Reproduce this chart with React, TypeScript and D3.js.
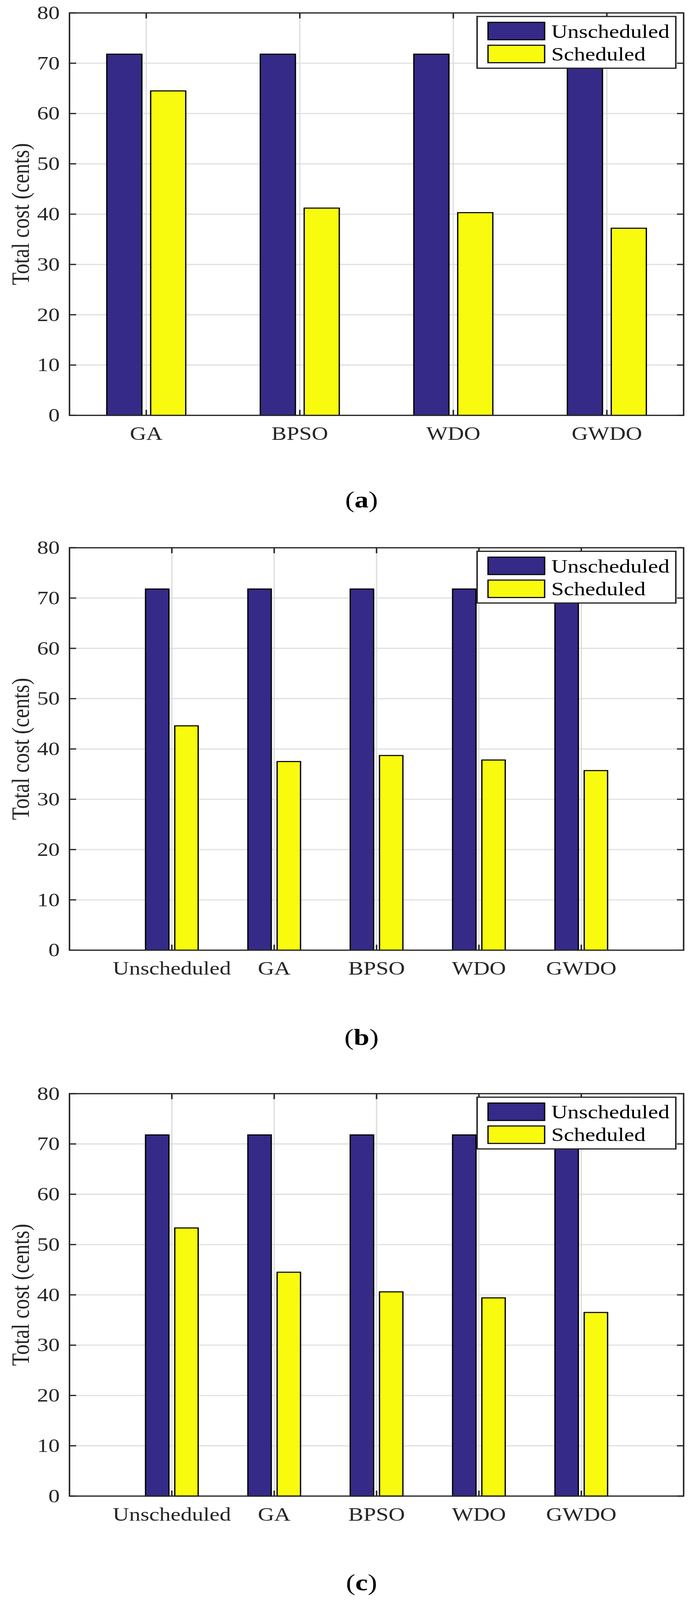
import React, { useEffect } from 'react';
import * as d3 from 'd3';

// panel (a): four methods
const catsA = ['GA', 'BPSO', 'WDO', 'GWDO'];
const unschedA = [71.8, 71.8, 71.8, 71.8];
const schedA = [64.5, 41.2, 40.3, 37.2];

// panel (b)
const catsB = ['Unscheduled', 'GA', 'BPSO', 'WDO', 'GWDO'];
const unschedB = [71.8, 71.8, 71.8, 71.8, 71.8];
const schedB = [44.6, 37.5, 38.7, 37.8, 35.7];

// panel (c)
const catsC = ['Unscheduled', 'GA', 'BPSO', 'WDO', 'GWDO'];
const unschedC = [71.8, 71.8, 71.8, 71.8, 71.8];
const schedC = [53.3, 44.5, 40.6, 39.4, 36.5];

const yTicks = [0, 10, 20, 30, 40, 50, 60, 70, 80];
const seriesNames = ['Unscheduled', 'Scheduled'];
const captions = ['a', 'b', 'c'];

const W = 1775;
const H = 4950;
const LEFT = 178;
const RIGHT = 1751;
const PH = 1245;
const TOPS = [40, 1694.6, 3383.5];
const CAP_Y = [1570, 3233, 4920];

const BLUE = '#352a87';
const YELLOW = '#f9fb0e';
const AXIS = '#262626';
const GRID = '#dfdfdf';
const FONT = '"Liberation Serif", "Times New Roman", serif';
const FS = 58;
const TICK = 17;

const Panel = ({ top, cats, unsched, sched, pad }: any) => {
  const n = cats.length;
  const x = d3.scaleLinear().domain([1 - pad, n + pad]).range([LEFT, RIGHT]);
  const y = d3.scaleLinear().domain([0, 80]).range([PH, 0]);
  const step = x(2) - x(1);
  const offs = 0.1429; // matlab grouped bar offset for 2 series
  const bw = 0.2286 * step;
  const idx = d3.range(1, n + 1);
  const series = [
    { vals: unsched, color: BLUE, off: -offs },
    { vals: sched, color: YELLOW, off: offs },
  ];
  const lx = 1222;
  const ly = 11;
  return (
    <g transform={`translate(0,${top})`}>
      {/* grid */}
      {yTicks.map(t => (
        <line key={'gy' + t} x1={LEFT} x2={RIGHT} y1={y(t)} y2={y(t)} stroke={GRID} strokeWidth={3.5} />
      ))}
      {idx.map(i => (
        <line key={'gx' + i} x1={x(i)} x2={x(i)} y1={0} y2={PH} stroke={GRID} strokeWidth={3.5} />
      ))}
      {/* bars */}
      {series.map((s, si) =>
        idx.map(i => (
          <rect
            key={`b${si}-${i}`}
            x={x(i + s.off) - bw / 2}
            y={y(s.vals[i - 1])}
            width={bw}
            height={y(0) - y(s.vals[i - 1])}
            fill={s.color}
            stroke="#000"
            strokeWidth={3.3}
          />
        ))
      )}
      {/* box + ticks */}
      <rect x={LEFT} y={0} width={RIGHT - LEFT} height={PH} fill="none" stroke={AXIS} strokeWidth={3.8} />
      {yTicks.map(t => (
        <g key={'ty' + t}>
          <line x1={LEFT} x2={LEFT + TICK} y1={y(t)} y2={y(t)} stroke={AXIS} strokeWidth={3.8} />
          <line x1={RIGHT - TICK} x2={RIGHT} y1={y(t)} y2={y(t)} stroke={AXIS} strokeWidth={3.8} />
          <text x={153} y={y(t) + FS * 0.33} textAnchor="end" fontSize={FS} fontFamily={FONT} fill={AXIS}>
            {t}
          </text>
        </g>
      ))}
      {idx.map(i => (
        <g key={'tx' + i}>
          <line x1={x(i)} x2={x(i)} y1={PH} y2={PH - TICK} stroke={AXIS} strokeWidth={3.8} />
          <line x1={x(i)} x2={x(i)} y1={0} y2={TICK} stroke={AXIS} strokeWidth={3.8} />
          <text x={x(i)} y={PH + 76} textAnchor="middle" fontSize={FS} fontFamily={FONT} fill={AXIS}>
            {cats[i - 1]}
          </text>
        </g>
      ))}
      <text
        transform={`translate(74,${PH / 2}) rotate(-90)`}
        textAnchor="middle"
        fontSize={64}
        fontFamily={FONT}
        fill={AXIS}
      >
        Total cost (cents)
      </text>
      {/* legend */}
      <rect x={lx} y={ly} width={1731 - lx} height={160} fill="#fff" stroke={AXIS} strokeWidth={3.8} />
      {seriesNames.map((name, k) => (
        <g key={name}>
          <rect
            x={1250}
            y={ly + 18 + k * 71}
            width={145}
            height={54}
            fill={k === 0 ? BLUE : YELLOW}
            stroke="#000"
            strokeWidth={3.3}
          />
          <text x={1412} y={ly + 66 + k * 70} fontSize={FS} fontFamily={FONT} fill="#000">
            {name}
          </text>
        </g>
      ))}
    </g>
  );
};

export default function App() {
  useEffect(() => {
    document.body.style.margin = '0';
  }, []);

  // the browser window is shorter than the figure; fit the figure into it
  const vh = typeof window !== 'undefined' && window.innerHeight > 0 ? Math.min(H, window.innerHeight) : H;

  const panels = [
    { cats: catsA, unsched: unschedA, sched: schedA, pad: 0.5 },
    { cats: catsB, unsched: unschedB, sched: schedB, pad: 1 },
    { cats: catsC, unsched: unschedC, sched: schedC, pad: 1 },
  ];
  return (
    <div style={{ width: W, height: vh, overflow: 'hidden', background: '#fff' }}>
      <svg
        width={W}
        height={vh}
        viewBox={`0 0 ${W} ${H}`}
        preserveAspectRatio="none"
        style={{ display: 'block' }}
      >
        <rect width={W} height={H} fill="#fff" />
        {panels.map((p, i) => (
          <Panel key={i} top={TOPS[i]} {...p} />
        ))}
        {captions.map((c, i) => (
          <text key={c} x={926} y={CAP_Y[i]} textAnchor="middle" fontSize={72} fontFamily={FONT} fill="#000">
            (<tspan fontWeight="bold">{c}</tspan>)
          </text>
        ))}
      </svg>
    </div>
  );
}
